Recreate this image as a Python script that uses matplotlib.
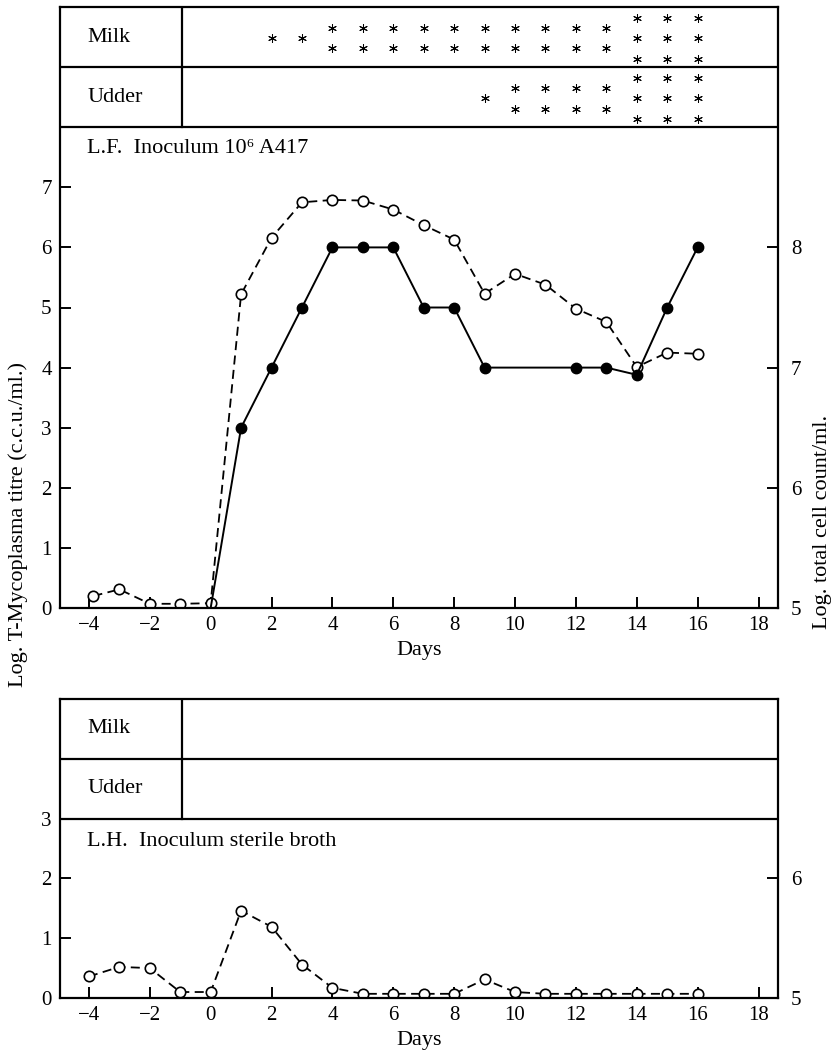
import matplotlib.pyplot as plt
import numpy as np

plt.rcParams['font.family'] = ['Liberation Serif', 'DejaVu Serif']
plt.rcParams['font.size'] = 16

# L.F. quarter, inoculum 10^6 A417
lf_days_open = [-3.85, -3, -2, -1, 0, 1, 2, 3, 4, 5, 6, 7, 8, 9, 10, 11, 12, 13, 14, 15, 16]
lf_open = [0.20, 0.31, 0.07, 0.07, 0.08, 5.22, 6.16, 6.75, 6.79, 6.78, 6.63, 6.37, 6.13,
           5.23, 5.56, 5.38, 4.98, 4.76, 4.01, 4.25, 4.23]
lf_days_filled = [0, 1, 2, 3, 4, 5, 6, 7, 8, 9, 12, 13, 14, 15, 16]
lf_filled = [0, 3, 4, 5, 6, 6, 6, 5, 5, 4, 4, 4, 3.88, 5, 6]

# L.H. quarter, sterile broth
lh_days = [-4, -3, -2, -1, 0, 1, 2, 3, 4, 5, 6, 7, 8, 9, 10, 11, 12, 13, 14, 15, 16]
lh_open = [0.36, 0.52, 0.50, 0.10, 0.10, 1.46, 1.19, 0.56, 0.17, 0.07, 0.07, 0.07, 0.07,
           0.31, 0.10, 0.07, 0.07, 0.07, 0.07, 0.07, 0.07]

# number of asterisks per day in the Milk / Udder rows (L.F.)
star_days = [2, 3, 4, 5, 6, 7, 8, 9, 10, 11, 12, 13, 14, 15, 16]
milk_stars = [1, 1, 2, 2, 2, 2, 2, 2, 2, 2, 2, 2, 3, 3, 3]
udder_stars = [0, 0, 0, 0, 0, 0, 0, 1, 2, 2, 2, 2, 3, 3, 3]

x_ticks = list(range(-4, 19, 2))

W, H = 835, 1055
fig = plt.figure(figsize=(W / 100, H / 100), dpi=100)

ax1 = fig.add_axes([60 / W, 1 - 608 / H, 718.3 / W, 601 / H])
ax2 = fig.add_axes([60 / W, 1 - 998 / H, 718.3 / W, 299 / H])


def style(ax, ytop, yticks, right_ticks):
    ax.set_xlim(-4.95, 18.65)
    ax.set_ylim(0, ytop)
    ax.set_xticks(x_ticks)
    ax.set_xticklabels([str(t).replace('-', '\u2212') for t in x_ticks])
    ax.set_yticks(yticks)
    for s in ax.spines.values():
        s.set_linewidth(1.6)
    ax.tick_params(direction='in', length=8, width=1.4, pad=6, labelsize=15)
    ax.set_xlabel('Days', labelpad=4)
    # Milk / Udder boxes
    ax.axhline(ytop - 2, color='black', lw=1.6)
    ax.axhline(ytop - 1, color='black', lw=1.6)
    ax.plot([-0.95, -0.95], [ytop - 2, ytop], color='black', lw=1.6)
    ax.text(-4.05, ytop - 0.5, 'Milk', va='center', ha='left')
    ax.text(-4.05, ytop - 1.5, 'Udder', va='center', ha='left')
    axr = ax.twinx()
    axr.set_ylim(5, 5 + ytop / 2)
    axr.set_yticks(right_ticks)
    axr.tick_params(direction='in', length=8, width=1.4, pad=9, labelsize=15)
    for s in axr.spines.values():
        s.set_visible(False)
    return axr


style(ax1, 10, range(0, 8), [5, 6, 7, 8])
style(ax2, 5, range(0, 4), [5, 6])

open_kw = dict(color='black', lw=1.3, dashes=(5, 3), marker='o', ms=7.5,
               mfc='white', mec='black', mew=1.2)
ax1.plot(lf_days_open, lf_open, **open_kw)
ax1.plot(lf_days_filled, lf_filled, color='black', lw=1.4, marker='o', ms=7.5,
         mfc='black', mec='black', markevery=list(range(1, len(lf_filled))))
ax2.plot(lh_days, lh_open, **open_kw)

# asterisks
for centre, counts in [(9.48, milk_stars), (8.48, udder_stars)]:
    xs, ys = [], []
    for d, n in zip(star_days, counts):
        for k in range(n):
            xs.append(d)
            ys.append(centre + (k - (n - 1) / 2) * 0.34)
    ax1.scatter(xs, ys, marker=(6, 2, 0), s=32, color='black', lw=0.75)

ax1.text(-4.05, 7.65, 'L.F.  Inoculum 10\u2076 A417', va='center', ha='left')
ax2.text(-4.05, 2.62, 'L.H.  Inoculum sterile broth', va='center', ha='left')

fig.text(18 / W, 1 - 525 / H, 'Log. T-Mycoplasma titre (c.c.u./ml.)', rotation=90,
         va='center', ha='center')
fig.text(823 / W, 1 - 522 / H, 'Log. total cell count/ml.', rotation=90,
         va='center', ha='center')

fig.savefig('out.png', dpi=100)
